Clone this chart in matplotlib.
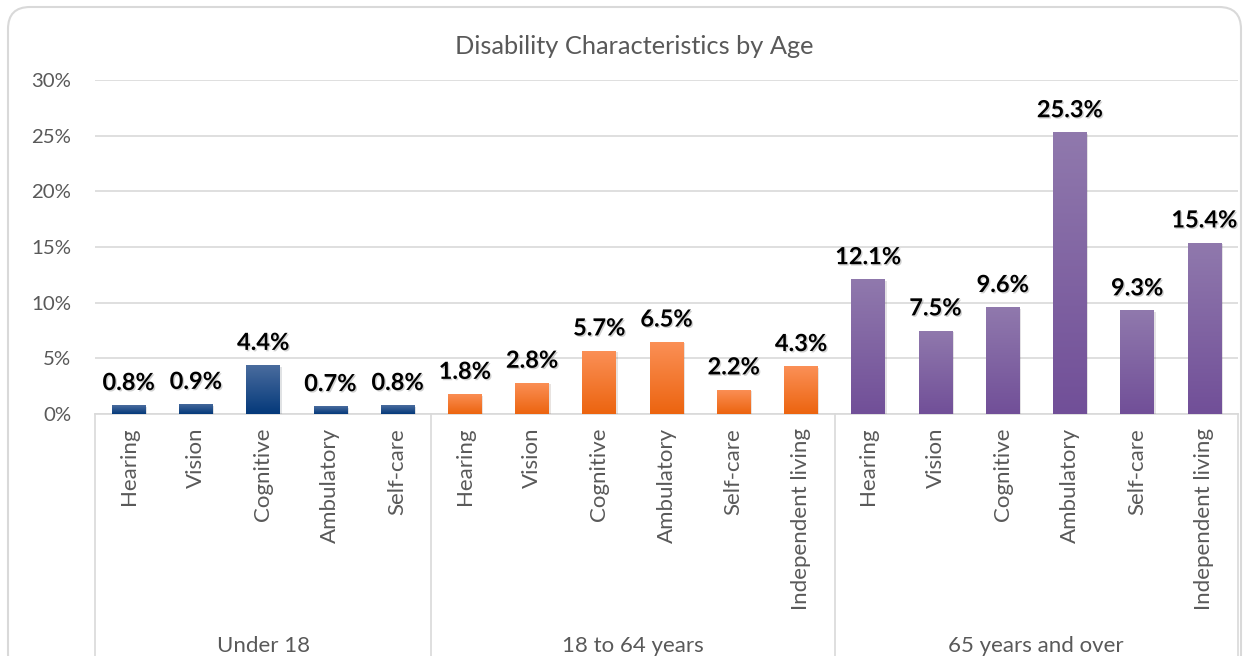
import numpy as np
import matplotlib
matplotlib.use("Agg")
import matplotlib.pyplot as plt
from matplotlib.colors import LinearSegmentedColormap
from matplotlib.patches import FancyBboxPatch
from matplotlib.ticker import PercentFormatter
from matplotlib import patheffects, transforms

# disability rates (%) by age group
groups = ["Under 18", "18 to 64 years", "65 years and over"]
under18_types = ["Hearing", "Vision", "Cognitive", "Ambulatory", "Self-care"]
adult_types = ["Hearing", "Vision", "Cognitive", "Ambulatory", "Self-care", "Independent living"]
senior_types = ["Hearing", "Vision", "Cognitive", "Ambulatory", "Self-care", "Independent living"]
under18_vals = [0.8, 0.9, 4.4, 0.7, 0.8]
adult_vals = [1.8, 2.8, 5.7, 6.5, 2.2, 4.3]
senior_vals = [12.1, 7.5, 9.6, 25.3, 9.3, 15.4]

# (top, bottom) gradient colours per group
group_colors = [("#4a6c9e", "#04397a"), ("#fb9057", "#ec640f"), ("#9079ad", "#714f98")]

plt.rcParams["font.family"] = ["Lato", "DejaVu Sans"]
grey = "#595959"

fig = plt.figure(figsize=(12.44, 6.56), dpi=100)
ax = fig.add_axes([95 / 1244, 242 / 656, 1143 / 1244, 334 / 656])

type_lists = [under18_types, adult_types, senior_types]
val_lists = [under18_vals, adult_vals, senior_vals]

pos = 0
bounds = [-0.5]
for types, vals, (c_top, c_bot) in zip(type_lists, val_lists, group_colors):
    xs = np.arange(pos, pos + len(types))
    bars = ax.bar(xs, vals, width=0.5, color=c_bot, zorder=3)
    cmap = LinearSegmentedColormap.from_list("g", [c_bot, c_top])
    grad = np.linspace(0, 1, 256).reshape(-1, 1)
    for b, v in zip(bars, vals):
        b.set_path_effects([patheffects.SimplePatchShadow(offset=(1.2, -1.2), alpha=0.12),
                            patheffects.Normal()])
        im = ax.imshow(grad, cmap=cmap, origin="lower", aspect="auto", zorder=4,
                       extent=(b.get_x(), b.get_x() + b.get_width(), 0, v))
        im.set_clip_path(b)
        ax.annotate(f"{v:.1f}%", (b.get_x() + b.get_width() / 2, v),
                    xytext=(0, 8), textcoords="offset points",
                    ha="center", va="bottom", fontsize=17, fontweight="bold",
                    color="black", zorder=5,
                    path_effects=[patheffects.withSimplePatchShadow(offset=(1, -1), alpha=0.18)])
    pos += len(types)
    bounds.append(pos - 0.5)

all_types = under18_types + adult_types + senior_types
ax.set_xlim(-0.5, pos - 0.5)
ax.set_ylim(0, 30)
ax.set_yticks(np.arange(0, 31, 5))
ax.yaxis.set_major_formatter(PercentFormatter(xmax=100, decimals=0))
ax.set_xticks(np.arange(len(all_types)))
ax.set_xticklabels(all_types, rotation=90, va="top", ha="center")
ax.tick_params(axis="x", length=0, pad=10, labelsize=16, labelcolor=grey)
ax.tick_params(axis="y", length=0, pad=17, labelsize=14.7, labelcolor=grey)
ax.grid(axis="y", color="#d9d9d9", linewidth=1.2, zorder=0)
ax.set_axisbelow(True)
for s in ["left", "right", "top"]:
    ax.spines[s].set_visible(False)
ax.spines["bottom"].set_color("#d9d9d9")
ax.spines["bottom"].set_linewidth(1.2)

# group separators and group names under the category labels
trans = transforms.blended_transform_factory(ax.transData, fig.transFigure)
for bx in bounds:
    ax.plot([bx, bx], [0, 242 / 656], transform=trans, color="#d9d9d9",
            linewidth=1.2, clip_on=False)
for g, lo, hi in zip(groups, bounds[:-1], bounds[1:]):
    ax.text((lo + hi) / 2, 0, g, transform=trans, ha="center", va="bottom",
            fontsize=16, color=grey)

fig.text(634 / 1244, 609 / 656, "Disability Characteristics by Age", ha="center",
         va="center", fontsize=18.3, color=grey)

# rounded chart frame
frame = FancyBboxPatch((8, -20), 1233, 669, boxstyle="round,pad=0,rounding_size=22",
                       transform=None, facecolor="none", edgecolor="#d9d9d9",
                       linewidth=1.5)
fig.add_artist(frame)

fig.savefig("out.png", dpi=100, facecolor="white")
